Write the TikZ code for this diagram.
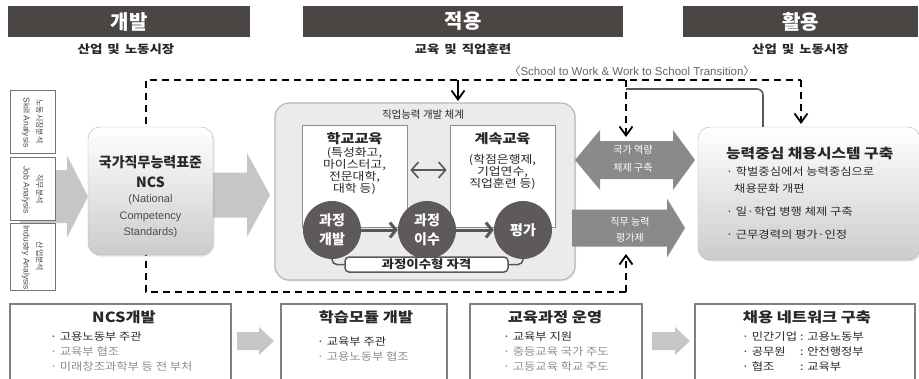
\documentclass[tikz,border=0pt]{standalone}
\usepackage{fontspec}
\setmainfont{Noto Sans CJK KR}
\newfontfamily\krwide[FakeStretch=1.17]{Noto Sans CJK KR}
\newfontfamily\arialfont{Liberation Sans}
\usepackage{tikz}
\usetikzlibrary{positioning,arrows.meta,shadows}

\definecolor{hdrgray}{RGB}{75,70,67}
\definecolor{ringgray}{RGB}{93,90,89}
\definecolor{darkfill}{RGB}{138,138,138}
\definecolor{lightfill}{RGB}{198,198,200}
\definecolor{linegray}{RGB}{88,88,88}
\definecolor{txtgray}{RGB}{140,140,140}
\definecolor{txtdark}{RGB}{40,40,40}

\newcommand{\fsz}[2]{\fontsize{#1}{#2}\selectfont}
\newcommand{\widesp}{\spaceskip 5pt\relax}
\newcommand{\blockarrow}[7][]{\fill[#1] (#2,#4-#5) -- (#3-#7,#4-#5) -- (#3-#7,#4-#6) -- (#3,#4) -- (#3-#7,#4+#6) -- (#3-#7,#4+#5) -- (#2,#4+#5) -- cycle;}

\begin{document}
\begin{tikzpicture}[x=1pt, y=-1pt, inner sep=0pt, text=txtdark,
  hdr/.style={fill=hdrgray, text=white, minimum height=31pt, font=\fsz{20}{20}\bfseries},
  subhdr/.style={font=\krwide\fsz{11.5}{11.5}\bfseries\widesp},
  anabox/.style={draw=black!55, fill=white, rotate=-90, minimum width=63pt, minimum height=45pt, align=center, font=\fsz{8}{13}, text=black!70},
  softbox/.style={draw=black!30, rounded corners=12pt, top color=white, bottom color=black!20, drop shadow={opacity=.2, shadow xshift=1.5pt, shadow yshift=-1.5pt}},
  outerbox/.style={draw=black!28, line width=1.2pt, rounded corners=14pt, fill=black!8, drop shadow={opacity=.15, shadow xshift=1pt, shadow yshift=-1.5pt}},
  whitebox/.style={draw=black!45, fill=white, line width=.8pt, minimum width=105pt, minimum height=102pt},
  ring/.style={circle, fill=ringgray, text=white, minimum size=58pt, align=center, font=\fsz{14}{19}\bfseries},
  flow/.style={line width=3pt, draw=linegray, -{Straight Barb[length=6pt, width=15pt]}},
  dashline/.style={line width=2.4pt, dash pattern=on 7pt off 5pt},
  vtip/.style={-{Straight Barb[length=9pt, width=13pt, line width=1.8pt]}},
  greyline/.style={line width=1.6pt, draw=linegray},
  lightarrow/.style={fill=lightfill},
  darkarrow/.style={fill=darkfill},
  botbox/.style={draw=black!50, line width=1.5pt, fill=white, anchor=north, minimum height=90pt},
  bottitle/.style={font=\krwide\fsz{14}{14}\bfseries},
  bul/.style={anchor=west, font=\krwide\fsz{10.5}{10.5}},
  bulgray/.style={bul, text=txtgray}]
  \path[use as bounding box, clip] (0,0) rectangle (919,378);
  \fill[white] (0,0) rectangle (919,378);

  \node[hdr, minimum width=242pt] (dev) at (129,21.5) {개발};
  \node[hdr, minimum width=320pt] (apply) at (463,21.5) {적용};
  \node[hdr, minimum width=235pt] (use) at (800.5,21.5) {활용};
  \node[subhdr] (devsub) at (126,49) {산업 및 노동시장};
  \node[subhdr] (applysub) at (463,49) {교육 및 직업훈련};
  \node[subhdr] (usesub) at (800.5,49) {산업 및 노동시장};
  \node[font=\fsz{11.5}{11.5}, text=black!60] (trans) at (632,71) {〈{\arialfont School to Work \& Work to School Transition}〉};

  \coordinate (dtl) at (146,80);
  \coordinate (dbl) at (146,292);
  \coordinate (dbr) at (626,292);
  \coordinate (dtr) at (801,80);
  \coordinate (dtm) at (626,80);
  \coordinate (dta) at (458,80);
  \coordinate (join) at (626,89);
  \coordinate (natin) at (626,137);
  \coordinate (jobin) at (626,254);
  \draw[dashline] (dbr) -- (dbl) -- (dtl) -- (dtr);
  \draw[dashline, vtip] (dtr) -- (801,124);
  \draw[dashline, vtip] (dtm) -- (natin);
  \draw[dashline, vtip] (dbr) -- (jobin);
  \draw[line width=2pt, vtip] (dta) -- (458,101);

  \blockarrow[lightarrow]{20}{88}{196.5}{26.5}{41}{21}
  \node[anabox] (skill) at (32.5,121.5) {노동시장분석\\{\arialfont\fsz{8.5}{13} Skill Analysis}};
  \node[anabox] (job) at (32.5,189) {직무분석\\{\arialfont\fsz{8.5}{13} Job Analysis}};
  \node[anabox] (ind) at (32.5,256.5) {산업분석\\{\arialfont\fsz{8.5}{13} Industry Analysis}};

  \blockarrow[lightarrow]{205}{270}{195}{22.5}{42}{23}
  \node[softbox, minimum width=125pt, minimum height=128pt] (ncs) at (150.5,191) {};
  \node[font=\fsz{14}{20}\bfseries, align=center] (ncstit) at (150.5,172) {국가직무능력표준\\NCS};
  \node[font=\arialfont\fsz{11}{16.5}, align=center, text=black!70] (ncssub) at (150.5,216.5) {(National\\Competency\\Standards)};

  \node[outerbox, minimum width=300pt, minimum height=177pt] (sys) at (425,191.5) {};
  \node[font=\fsz{10.5}{10.5}] (systit) at (423,115) {직업능력 개발 체계};
  \node[whitebox] (school) at (354.5,176) {};
  \node[whitebox] (cont) at (502.5,176) {};
  \node[font=\krwide\fsz{13}{13}\bfseries] (schooltit) at (354.5,139) {학교교육};
  \node[font=\krwide\fsz{11}{12.3}, align=center] (schooltx) at (354.5,171) {(특성화고,\\마이스터고,\\전문대학,\\대학 등)};
  \node[font=\krwide\fsz{13}{13}\bfseries] (conttit) at (502.5,139) {계속교육};
  \node[font=\krwide\fsz{11}{12}, align=center] (conttx) at (502.5,172) {(학점은행제,\\기업연수,\\직업훈련 등)};
  \draw[line width=1.6pt, draw=linegray, {Straight Barb[length=7pt, width=16pt]}-{Straight Barb[length=7pt, width=16pt]}, shorten <=3pt, shorten >=3pt] ([yshift=6pt]school.east) -- ([yshift=6pt]cont.west);

  \node[ring] (mkc) at (332,230) {과정\\개발};
  \node[ring] (takec) at (427,230) {과정\\이수};
  \node[ring] (evalc) at (523,230) {평가};
  \draw[flow] (mkc) -- (takec);
  \draw[flow] (takec) -- (evalc);
  \node[draw=linegray, line width=1.5pt, fill=white, rounded corners=4pt, minimum width=163pt, minimum height=15pt, font=\krwide\fsz{11.5}{11.5}\bfseries] (qual) at (426.5,264.5) {과정이수형 자격};
  \draw[line width=1.5pt, draw=linegray, rounded corners=5pt] (mkc.south) |- (qual.west);
  \draw[line width=1.5pt, draw=linegray, rounded corners=5pt] (evalc.south) |- (qual.east);

  \fill[darkarrow] (575,160) -- (600,130) -- (600,141) -- (673,141) -- (673,130) -- (695,160) -- (673,190) -- (673,179) -- (600,179) -- (600,190) -- cycle;
  \node[font=\fsz{10}{18}, text=white, align=center] (natcap) at (633,159) {국가 역량\\체제 구축};
  \blockarrow[darkarrow]{572}{685}{228}{18.5}{29.5}{18}
  \node[font=\fsz{10}{16}, text=white, align=center] (jobeval) at (630,230) {직무 능력\\평가제};

  \node[softbox, minimum width=222pt, minimum height=133pt] (hire) at (809,193.5) {};
  \draw[greyline, rounded corners=6pt] ([xshift=-46pt]hire.north) |- (join);
  \node[anchor=west, font=\krwide\fsz{13.5}{13.5}\bfseries] (hiretit) at (726,153) {능력중심 채용시스템 구축};
  \node[anchor=west, font=\krwide\fsz{10.5}{10.5}] (h1) at (726,172) {· 학벌중심에서 능력중심으로};
  \node[anchor=west, font=\krwide\fsz{10.5}{10.5}] (h2) at (734,189) {채용문화 개편};
  \node[anchor=west, font=\krwide\fsz{10.5}{10.5}] (h3) at (726,212) {· 일·학업 병행 체제 구축};
  \node[anchor=west, font=\krwide\fsz{10.5}{10.5}] (h4) at (726,235) {· 근무경력의 평가·인정};

  \node[botbox, minimum width=221pt] (b1) at (120.5,303) {};
  \node[botbox, minimum width=166pt] (b2) at (364,303) {};
  \node[botbox, minimum width=172pt] (b3) at (556,303) {};
  \node[botbox, minimum width=220pt] (b4) at (805,303) {};
  \blockarrow[lightarrow]{237}{274}{341}{9}{14}{15}
  \blockarrow[lightarrow]{652}{690}{341}{9}{14}{15}

  \node[bottitle] (b1t) at (124,317) {NCS개발};
  \node[bul] at (50,337) {· 고용노동부 주관};
  \node[bulgray] at (50,352) {· 교육부 협조};
  \node[bulgray] at (50,367) {· 미래창조과학부 등 전 부처};

  \node[bottitle] (b2t) at (366,317) {학습모듈 개발};
  \node[bul] at (317,342) {· 교육부 주관};
  \node[bulgray] at (317,357) {· 고용노동부 협조};

  \node[bottitle] (b3t) at (555,317) {교육과정 운영};
  \node[bul] at (503,337) {· 교육부 지원};
  \node[bulgray] at (503,352) {· 중등교육 국가 주도};
  \node[bulgray] at (503,367) {· 고등교육 학교 주도};

  \node[bottitle] (b4t) at (807,317) {채용 네트워크 구축};
  \node[bul] at (742,337) {\makebox[58pt][l]{· 민간기업}: 고용노동부};
  \node[bul] at (742,352) {\makebox[58pt][l]{· 공무원}: 안전행정부};
  \node[bul] at (742,367) {\makebox[58pt][l]{· 협조}: 교육부};
\end{tikzpicture}
\end{document}
